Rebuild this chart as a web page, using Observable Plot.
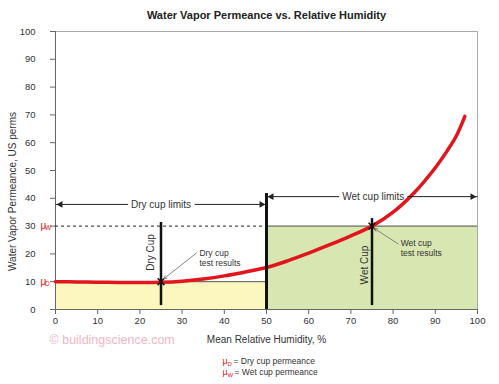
<!DOCTYPE html>
<html><head><meta charset="utf-8">
<script src="https://cdn.jsdelivr.net/npm/d3@7"></script>
<script src="https://cdn.jsdelivr.net/npm/@observablehq/plot@0.6"></script>
<style>body{margin:0;background:#fff}</style>
</head><body><div id="chart"></div>
<script>
// Data
const rh   = [0, 5, 10, 15, 20, 25, 30, 35, 40, 45, 50, 55, 60, 65, 70, 75, 80, 85, 90, 93, 95, 97];
const perm = [10, 9.9, 9.8, 9.75, 9.7, 9.8, 10.2, 11, 12.1, 13.5, 15.1, 17.5, 20.3, 23.3, 26.5, 30, 35, 42, 51, 57.5, 62.5, 69.5];
const xTicks = [0, 10, 20, 30, 40, 50, 60, 70, 80, 90, 100];
const yTicks = [0, 10, 20, 30, 40, 50, 60, 70, 80, 90, 100];
const dryRange = [0, 50];
const wetRange = [50, 100];
const muD = 10;
const muW = 30;
const testRH = [25, 75];
const testPerm = [10, 30];
const cupBarBottom = [1.4, 1.4];
const cupBarTop = [31.3, 32.7];
const boundaryTop = 41.7;
const limitY = [37.8, 40.6];
const limitLabels = ["Dry cup limits", "Wet cup limits"];
const limitLabelX = [25, 75.3];
const limitGap = [[17.2, 33], [67.2, 83.4]];
const cupLabels = ["Dry Cup", "Wet Cup"];
const cupLabelX = [22.6, 73.2];
const cupLabelY = [20.5, 16];
const resultLabels = ["Dry cup\ntest results", "Wet cup\ntest results"];
const resultX = [34.1, 81.8];
const resultY = [18.6, 22.3];
const leaderFrom = [[33.4, 20.3], [81.2, 23.6]];
const leaderTo = [[25.7, 11.1], [75.6, 29.1]];
const legendSubs = ["D", "W"];
const legendTexts = ["= Dry cup permeance", "= Wet cup permeance"];

const curve = rh.map((x, i) => ({x, y: perm[i]}));
const font = "Liberation Sans, Arial, Helvetica, sans-serif";
const ink = "#333";
const red = "#e2141c";

const limits = limitLabels.map((t, i) => ({t, x: limitLabelX[i], y: limitY[i]}));
const limitSegs = [
  {x1: limitGap[0][0], x2: dryRange[0], y: limitY[0]},
  {x1: limitGap[0][1], x2: dryRange[1], y: limitY[0]},
  {x1: limitGap[1][0], x2: wetRange[0], y: limitY[1]},
  {x1: limitGap[1][1], x2: wetRange[1], y: limitY[1]}
];
const leftHeads = limitSegs.filter(d => d.x2 < d.x1);
const rightHeads = limitSegs.filter(d => d.x2 > d.x1);

const legendMarks = legendTexts.flatMap((t, i) => [
  Plot.text(["μ"], {frameAnchor: "bottom-left", dx: 167, dy: 54 + 11 * i, textAnchor: "start", text: d => d, fontSize: 9, fill: red}),
  Plot.text([legendSubs[i]], {frameAnchor: "bottom-left", dx: 172, dy: 56 + 11 * i, textAnchor: "start", text: d => d, fontSize: 6, fill: red}),
  Plot.text([t], {frameAnchor: "bottom-left", dx: 178 + i, dy: 54 + 11 * i, textAnchor: "start", text: d => d, fontSize: 8.5, fill: ink})
]);

const plot = Plot.plot({
  width: 499, height: 384,
  marginLeft: 55, marginRight: 22, marginTop: 31, marginBottom: 75,
  x: {domain: [0, 100]},
  y: {domain: [0, 100]},
  style: {fontFamily: font, fontSize: "9.5px", color: ink, background: "#fff"},
  marks: [
    Plot.rect([0], {x1: dryRange[0], x2: dryRange[1], y1: 0, y2: muD, fill: "#fcf6bf"}),
    Plot.rect([0], {x1: wetRange[0], x2: wetRange[1], y1: 0, y2: muW, fill: "#d8e6b1"}),
    Plot.frame({stroke: "#aaa"}),
    Plot.ruleX([0], {y1: 0, y2: 100, stroke: "#666"}),
    Plot.ruleY([0], {stroke: "#666"}),
    Plot.ruleY([muD], {x1: dryRange[0], x2: dryRange[1], stroke: "#555", strokeWidth: 1}),
    Plot.ruleY([muW], {x1: wetRange[0], x2: wetRange[1], stroke: "#555", strokeWidth: 1}),
    Plot.ruleY([muW], {x1: dryRange[0], x2: dryRange[1], stroke: "#222", strokeWidth: 1, strokeDasharray: "3,3"}),
    Plot.axisX({ticks: xTicks, tickSize: 5, tickPadding: 3, label: null, fill: ink, stroke: "#666"}),
    Plot.axisY({ticks: yTicks, tickSize: 5, tickPadding: 15, label: null, fill: ink, stroke: "#666"}),
    Plot.line(curve, {x: "x", y: "y", stroke: red, strokeWidth: 3.5, curve: "catmull-rom"}),
    Plot.ruleX(testRH, {y1: (d, i) => cupBarBottom[i], y2: (d, i) => cupBarTop[i], stroke: "#111", strokeWidth: 2.5}),
    Plot.ruleX([dryRange[1]], {y1: 0, y2: boundaryTop, stroke: "#111", strokeWidth: 3}),
    Plot.dot(testRH, {x: d => d, y: (d, i) => testPerm[i], symbol: "times", r: 3.2, stroke: "#111", strokeWidth: 1.5}),
    // limit arrows
    Plot.link(limitSegs, {x1: "x1", x2: "x2", y1: "y", y2: "y", stroke: "#222", strokeWidth: 1}),
    Plot.dot(rightHeads, {x: "x2", y: "y", symbol: "triangle2", r: 3.2, fill: "#222", rotate: 90, dx: -5}),
    Plot.dot(leftHeads, {x: "x2", y: "y", symbol: "triangle2", r: 3.2, fill: "#222", rotate: -90, dx: 5}),
    Plot.text(limits, {x: "x", y: "y", text: "t", fontSize: 10, fill: ink}),
    // cup labels
    Plot.text(cupLabels, {x: (d, i) => cupLabelX[i], y: (d, i) => cupLabelY[i], text: d => d, rotate: -90, fontSize: 10, fill: ink}),
    // test result leaders
    Plot.arrow(leaderFrom, {x1: (d) => d[0], y1: d => d[1], x2: (d, i) => leaderTo[i][0], y2: (d, i) => leaderTo[i][1], stroke: "#777", strokeWidth: 0.9, headLength: 5}),
    Plot.text(resultLabels, {x: (d, i) => resultX[i], y: (d, i) => resultY[i], text: d => d, textAnchor: "start", fontSize: 8.5, lineHeight: 1.15, fill: ink}),
    // mu labels on y axis
    Plot.text([muW, muD], {x: 0, y: d => d, text: () => "μ", textAnchor: "start", dx: -15, fontSize: 10, fill: red}),
    Plot.text([muW, muD], {x: 0, y: d => d, text: d => d === muW ? "W" : "D", textAnchor: "start", dx: -10.5, dy: 2, fontSize: 6.5, fill: red}),
    // title
    Plot.text(["Water Vapor Permeance vs. Relative Humidity"], {frameAnchor: "top", dy: -20, text: d => d, fontSize: 11, fontWeight: "bold", fill: "#222"}),
    // axis titles
    Plot.text(["Water Vapor Permeance, US perms"], {frameAnchor: "left", textAnchor: "middle", dx: -43, dy: 21, rotate: -90, text: d => d, fontSize: 10, fill: ink}),
    Plot.text(["Mean Relative Humidity, %"], {frameAnchor: "bottom", dy: 33, text: d => d, fontSize: 10, fill: ink}),
    Plot.text(["© buildingscience.com"], {frameAnchor: "bottom-left", dx: -6, dy: 34, textAnchor: "start", text: d => d, fontSize: 12.5, fill: "#f2b6c4"}),
    ...legendMarks
  ]
});
document.getElementById("chart").append(plot);
</script>
</body></html>
